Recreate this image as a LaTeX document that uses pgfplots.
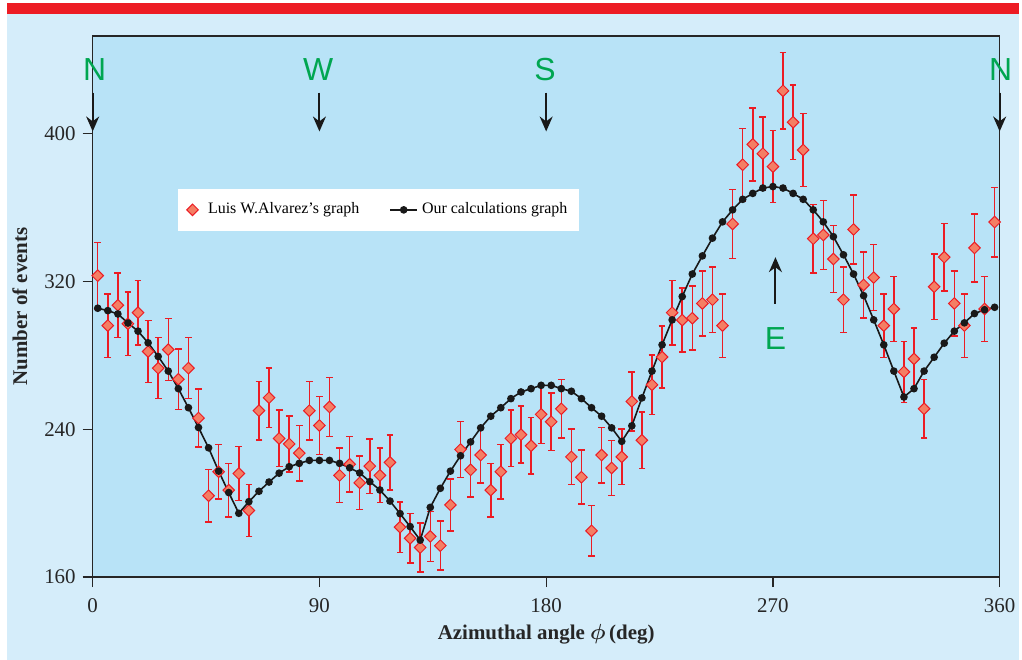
\documentclass[border=0pt]{standalone}
\usepackage{fontspec}
\setmainfont{Liberation Serif}
\setsansfont{Liberation Sans}
\usepackage{amsmath}
\usepackage{pgfplots}
\usepackage{pgfplotstable}
\pgfplotsset{compat=1.18}
\usetikzlibrary{arrows.meta}

\definecolor{outerblue}{HTML}{D5EDFA}
\definecolor{plotblue}{HTML}{B8E3F7}
\definecolor{barred}{HTML}{ED1C24}
\definecolor{errred}{HTML}{EC1C24}
\definecolor{dfill}{HTML}{F47E64}
\definecolor{lettergreen}{HTML}{00A651}

% measured counts, 4 degree bins, with sqrt(N) errors
\pgfplotstableread{
x y err
2 323 18.0
6 296 17.2
10 307 17.5
14 297 17.2
18 303 17.4
22 282 16.8
26 273 16.5
30 283 16.8
34 267 16.3
38 273 16.5
42 246 15.7
46 204 14.3
50 217 14.7
54 207 14.4
58 216 14.7
62 196 14.0
66 250 15.8
70 257 16.0
74 235 15.3
78 232 15.2
82 227 15.1
86 250 15.8
90 242 15.6
94 252 15.9
98 215 14.7
102 221 14.9
106 211 14.5
110 220 14.8
114 215 14.7
118 222 14.9
122 187 13.7
126 181 13.5
130 176 13.3
134 182 13.5
138 177 13.3
142 199 14.1
146 229 15.1
150 218 14.8
154 226 15.0
158 207 14.4
162 217 14.7
166 235 15.3
170 237 15.4
174 231 15.2
178 248 15.7
182 244 15.6
186 251 15.8
190 225 15.0
194 214 14.6
198 185 13.6
202 226 15.0
206 219 14.8
210 225 15.0
214 255 16.0
218 234 15.3
222 264 16.2
226 279 16.7
230 303 17.4
234 299 17.3
238 300 17.3
242 308 17.5
246 310 17.6
250 296 17.2
254 351 18.7
258 383 19.6
262 394 19.8
266 389 19.7
270 382 19.5
274 423 20.6
278 406 20.1
282 391 19.8
286 343 18.5
290 345 18.6
294 332 18.2
298 310 17.6
302 348 18.7
306 318 17.8
310 322 17.9
314 296 17.2
318 305 17.5
322 271 16.5
326 278 16.7
330 251 15.8
334 317 17.8
338 333 18.2
342 308 17.5
346 296 17.2
350 338 18.4
354 305 17.5
358 352 18.8
}\alvarez

% calculated curve
\pgfplotstableread{
x y
2 305.4
6 304.1
10 302.3
14 297.4
18 293.0
22 286.7
26 279.3
30 271.4
34 261.9
38 251.6
42 240.9
46 229.9
50 217.3
54 205.7
58 194.5
62 200.8
66 206.4
70 211.4
74 216.2
78 219.7
82 221.5
86 223.1
90 223.1
94 223.1
98 221.5
102 219.1
106 216.3
110 211.6
114 207.1
118 201.1
122 194.3
126 187.3
130 180.0
134 197.7
138 208.0
142 217.3
146 225.6
150 233.1
154 240.7
158 247.0
162 251.6
166 256.5
170 260.1
174 261.9
178 263.7
182 263.7
186 261.9
190 260.5
194 256.5
198 251.6
202 247.0
206 240.7
210 233.4
214 241.8
218 256.9
222 271.4
226 285.6
230 299.1
234 311.7
238 323.9
242 333.7
246 343.3
250 352.1
254 358.6
258 364.3
262 367.5
266 370.4
270 371.2
274 370.4
278 367.5
282 364.3
286 358.6
290 352.1
294 344.1
298 334.3
302 323.9
306 312.2
310 299.1
314 285.6
318 271.4
322 257.4
326 261.9
330 271.4
334 278.9
338 286.5
342 293.0
346 297.5
350 302.5
354 304.6
358 305.9
}\calc

\begin{document}
\begin{tikzpicture}
\fill[white] (-46.5pt,-41.5pt) rectangle (464.5pt,289.5pt);
\fill[outerblue] (-43pt,-41.5pt) rectangle (464.5pt,282.5pt);
\fill[barred] (-43pt,282.5pt) rectangle (464.5pt,288pt);
\begin{axis}[
  at={(0pt,0pt)}, anchor=south west,
  scale only axis, width=455pt, height=271.5pt,
  xmin=0, xmax=360, ymin=160, ymax=452.7,
  xtick={0,90,180,270,360}, ytick={160,240,320,400},
  tick align=outside, xtick pos=left, ytick pos=left,
  major tick length=5pt,
  tick style={black!85, line width=0.6pt},
  axis line style={black!85, line width=0.8pt},
  axis background/.style={fill=plotblue},
  clip=false,
  ticklabel style={font=\fontsize{10.5}{12}\selectfont, text=black!85},
  xticklabel shift=2.5pt,
  /pgf/number format/assume math mode=true,
  xlabel={\textbf{Azimuthal angle $\boldsymbol{\phi}$\,(deg)}},
  ylabel={\textbf{Number of events}},
  label style={font=\fontsize{10.5}{12}\selectfont, text=black!85},
  xlabel style={at={(rel axis cs:0.5,0)}, anchor=base, yshift=-31.4pt},
  ylabel style={at={(rel axis cs:0,0.5)}, anchor=center, yshift=36.5pt},
  legend style={at={(rel axis cs:0.0934,0.718)}, anchor=north west,
    draw=none, fill=white, font=\fontsize{8}{9}\selectfont,
    inner xsep=4pt, inner ysep=5pt,
    /tikz/every even column/.append style={column sep=13pt}},
  legend columns=2,
]
\addplot[errred, only marks, mark=square*, mark size=2.05pt,
  mark options={rotate=45, fill=dfill, draw=errred, line width=0.5pt},
  legend image code/.code={
    \path (0pt,0pt) (8.8pt,0pt);
    \draw[errred, fill=dfill, line width=0.5pt] (3.2pt,2.9pt) -- (6.1pt,0pt)
      -- (3.2pt,-2.9pt) -- (0.3pt,0pt) -- cycle;},
  error bars/.cd, y dir=both, y explicit,
  error bar style={draw=errred, line width=0.75pt},
  error mark options={rotate=90, draw=errred, mark size=1.7pt, line width=0.75pt}]
  table[x=x, y=y, y error=err] {\alvarez};
\addlegendentry{Luis W.Alvarez’s graph}
\addplot[black!90, line width=0.8pt, mark=*, mark size=1.5pt,
  legend image code/.code={
    \draw[black!90, line width=0.8pt] (0cm,0cm) -- (0.48cm,0cm);
    \fill[black!90] (0.24cm,0cm) circle (1.5pt);}]
  table[x=x, y=y] {\calc};
\addlegendentry{Our calculations graph}

\begin{scope}[every node/.style={font=\sffamily\fontsize{16}{16}\selectfont, text=lettergreen}]
\node at (axis cs:0.8,434.4) {N};
\node at (axis cs:89.5,434.4) {W};
\node at (axis cs:179.5,434.4) {S};
\node at (axis cs:360.4,434.4) {N};
\node at (axis cs:271,288.8) {E};
\end{scope}
\begin{scope}[line width=1pt, black!90, -{Stealth[length=7.5pt, width=6.5pt]}]
\draw (axis cs:0,422) -- (axis cs:0,401);
\draw (axis cs:90,422) -- (axis cs:90,401);
\draw (axis cs:180,422) -- (axis cs:180,401);
\draw (axis cs:360,422) -- (axis cs:360,401);
\draw (axis cs:271,307.7) -- (axis cs:271,333);
\end{scope}
\end{axis}
\end{tikzpicture}
\end{document}
